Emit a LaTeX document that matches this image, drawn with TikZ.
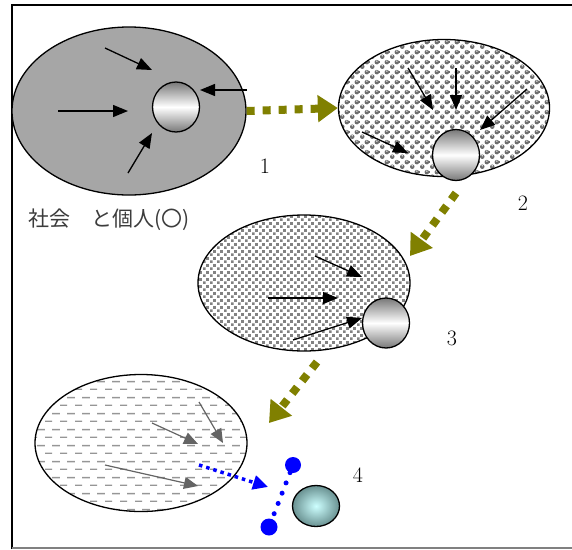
\documentclass[tikz,border=0pt]{standalone}
\usepackage{fontspec}
\newfontfamily\cjk{Noto Sans CJK JP}
\usetikzlibrary{arrows.meta}
\usetikzlibrary{patterns}
\usetikzlibrary{shapes.geometric}

\definecolor{socgray}{RGB}{166,166,166}
\definecolor{ballgray}{RGB}{120,120,120}
\definecolor{ballfill}{RGB}{110,110,110}
\definecolor{ballhi}{RGB}{225,225,225}
\definecolor{dotgray}{RGB}{130,130,130}
\definecolor{dashgray}{RGB}{150,150,150}
\definecolor{pushgray}{RGB}{100,100,100}
\definecolor{moveolive}{RGB}{128,128,0}
\definecolor{cyanin}{RGB}{205,255,255}
\definecolor{cyanout}{RGB}{105,145,145}
\definecolor{labelgray}{RGB}{60,60,60}

% fills of the ellipses
\pgfdeclarepatterninherentlycolored{balls}{\pgfqpoint{0pt}{0pt}}{\pgfqpoint{10pt}{10pt}}{\pgfqpoint{10pt}{10pt}}{%
  \pgfsetfillcolor{ballfill}%
  \pgfpathcircle{\pgfqpoint{2.5pt}{2.5pt}}{2.5pt}%
  \pgfpathcircle{\pgfqpoint{7.5pt}{7.5pt}}{2.5pt}%
  \pgfusepath{fill}%
  \pgfsetfillcolor{ballhi}%
  \pgfpathcircle{\pgfqpoint{2.5pt}{3.6pt}}{0.9pt}%
  \pgfpathcircle{\pgfqpoint{7.5pt}{8.6pt}}{0.9pt}%
  \pgfusepath{fill}%
}
\pgfdeclarepatterninherentlycolored{fine dots}{\pgfqpoint{0pt}{0pt}}{\pgfqpoint{7pt}{7pt}}{\pgfqpoint{7pt}{7pt}}{%
  \pgfsetfillcolor{dotgray}%
  \pgfpathrectangle{\pgfqpoint{0pt}{0pt}}{\pgfqpoint{3.1pt}{3.1pt}}%
  \pgfpathrectangle{\pgfqpoint{3.5pt}{3.5pt}}{\pgfqpoint{3.1pt}{3.1pt}}%
  \pgfusepath{fill}%
}
\pgfdeclarepatterninherentlycolored{dashes}{\pgfqpoint{0pt}{0pt}}{\pgfqpoint{15pt}{15.6pt}}{\pgfqpoint{15pt}{15.6pt}}{%
  \pgfsetfillcolor{dashgray}%
  \pgfpathrectangle{\pgfqpoint{0pt}{0pt}}{\pgfqpoint{7.5pt}{1.4pt}}%
  \pgfpathrectangle{\pgfqpoint{7.5pt}{7.8pt}}{\pgfqpoint{7.5pt}{1.4pt}}%
  \pgfusepath{fill}%
}

\begin{document}
\begin{tikzpicture}[x=1pt,y=-1pt,
    society/.style={ellipse, draw, line width=1.3pt, inner sep=0pt},
    person/.style={ellipse, draw, line width=1.3pt, inner sep=0pt,
        top color=ballgray, bottom color=ballgray, middle color=white},
    push/.style={line width=1.3pt, -{Triangle[length=15pt,width=12pt]}},
    pushsoft/.style={pushgray, line width=1.2pt, -{Triangle[length=14pt,width=12pt]}},
    move/.style={moveolive, line width=8pt, dash pattern=on 8pt off 8pt,
        -{Triangle[length=20pt,width=26pt]}},
    stagenum/.style={font=\fontsize{22}{26}\selectfont}]

        \useasboundingbox (0,0) rectangle (572,549);

        % cornice
        \draw[line width=1.5pt] (12,549) -- (12,5) -- (572,5);
        \draw[gray, line width=1.5pt] (12,548) -- (572,548);

        % 1
        \begin{scope}
            \node[society, fill=socgray, minimum width=234pt, minimum height=168pt] (s1) at (129,111) {};
            \node[person, minimum width=47pt, minimum height=50pt] (p1) at (176,107) {};
            \node[stagenum] (n1) at (265,166) {1};
            \node[font=\cjk\fontsize{21}{24}\selectfont, text=labelgray, anchor=west, inner sep=0pt] (lab) at (28,220) {社会　と個人(〇)};

            \coordinate (a) at (105,48);
            \coordinate (b) at (152,70);
            \coordinate (c) at (58,111);
            \coordinate (d) at (128,111);
            \coordinate (e) at (128,173);
            \coordinate (f) at (152,133);
            \coordinate (g) at (247,90);
            \coordinate (h) at (200,90);

            \draw[push] (a) -- (b);
            \draw[push] (c) -- (d);
            \draw[push] (e) -- (f);
            \draw[push] (g) -- (h);
        \end{scope}

        % 2
        \begin{scope}
            \node[society, pattern=balls, minimum width=211pt, minimum height=137pt] (s2) at (444,108) {};
            \node[person, minimum width=47pt, minimum height=51pt] (p2) at (456,155) {};
            \node[stagenum] (n2) at (523,203) {2};

            \coordinate (a) at (408,68);
            \coordinate (b) at (433,110);
            \coordinate (c) at (456,68);
            \coordinate (d) at (456,110);
            \coordinate (e) at (527,89);
            \coordinate (f) at (480,130);
            \coordinate (g) at (362,132);
            \coordinate (h) at (408,153);

            \draw[push] (a) -- (b);
            \draw[push] (c) -- (d);
            \draw[push] (e) -- (f);
            \draw[push] (g) -- (h);
        \end{scope}

        % 3
        \begin{scope}
            \node[society, pattern=fine dots, minimum width=212pt, minimum height=136pt] (s3) at (304,283) {};
            \node[person, minimum width=47pt, minimum height=50pt] (p3) at (386,323) {};
            \node[stagenum] (n3) at (452,338) {3};

            \coordinate (a) at (315,256);
            \coordinate (b) at (362,277);
            \coordinate (c) at (268,298);
            \coordinate (d) at (338,298);
            \coordinate (e) at (293,340);
            \coordinate (f) at (362,318);

            \draw[push] (a) -- (b);
            \draw[push] (c) -- (d);
            \draw[push] (e) -- (f);
        \end{scope}

        % 4
        \begin{scope}
            \node[society, pattern=dashes, minimum width=212pt, minimum height=137pt] (s4) at (141,443) {};
            \node[ellipse, draw, line width=1.3pt, inner color=cyanin, outer color=cyanout,
                minimum width=47pt, minimum height=41pt] (p4) at (316,506) {};
            \node[stagenum] (n4) at (358,475) {4};
            \node[circle, fill=blue, minimum size=16pt, inner sep=0pt] (q1) at (293,465) {};
            \node[circle, fill=blue, minimum size=17pt, inner sep=0pt] (q2) at (269,527) {};

            \coordinate (a) at (152,423);
            \coordinate (b) at (198,444);
            \coordinate (c) at (199,402);
            \coordinate (d) at (223,443);
            \coordinate (e) at (105,465);
            \coordinate (f) at (198,486);
            \coordinate (g) at (199,465);
            \coordinate (h) at (268,487);

            \draw[pushsoft] (a) -- (b);
            \draw[pushsoft] (c) -- (d);
            \draw[pushsoft] (e) -- (f);
            \draw[blue, line width=3.5pt, dash pattern=on 3.5pt off 4pt,
                -{Triangle[length=15pt,width=14pt]}] (g) -- (h);
            \draw[blue, line width=5pt, line cap=round, dash pattern=on 0pt off 11pt] (q1) -- (q2);
        \end{scope}

        % passaggi
        \coordinate (m1) at (456,193);
        \coordinate (m2) at (410,256);
        \coordinate (m3) at (317,362);
        \coordinate (m4) at (269,423);
        \draw[move] (s1.east) -- (s2.west);
        \draw[move] (m1) -- (m2);
        \draw[move] (m3) -- (m4);
    \end{tikzpicture}
\end{document}
